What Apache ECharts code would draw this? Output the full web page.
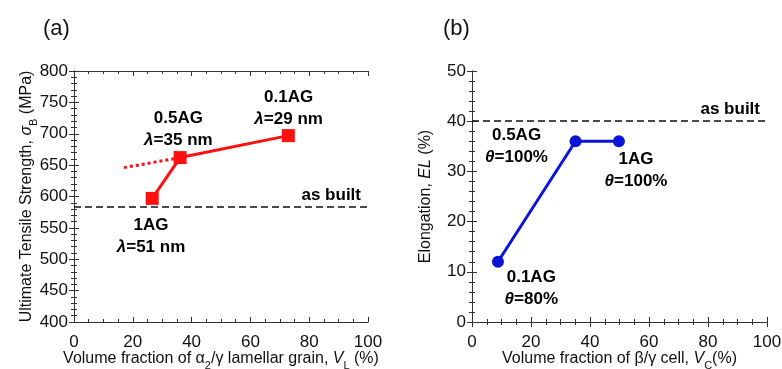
<!DOCTYPE html>
<html><head><meta charset="utf-8">
<script src="https://cdn.jsdelivr.net/npm/echarts@6/dist/echarts.min.js"></script>
<style>html,body{margin:0;padding:0;background:#fff}#c{width:782px;height:369px}</style>
</head><body><div id="c"></div>
<script>
// ---- data ----
const tsNames = ['1AG', '0.5AG', '0.1AG'];
const tsLambda = ['51 nm', '35 nm', '29 nm'];
const tsX = [26.6, 36.1, 72.9];
const tsY = [597, 662, 697];
const tsTrendX = [17, 36.1];
const tsTrendY = [646, 662];
const tsAsBuilt = 583;

const elNames = ['0.1AG', '0.5AG', '1AG'];
const elTheta = ['80%', '100%', '100%'];
const elX = [8.8, 35.1, 49.8];
const elY = [12, 36, 36];
const elAsBuilt = 40;

const xTicksA = [0, 20, 40, 60, 80, 100];
const yTicksA = [400, 450, 500, 550, 600, 650, 700, 750, 800];
const yTicksB = [0, 10, 20, 30, 40, 50];

// annotation anchors (data units)
const tsLabelAt = [[26.2, 536], [35.5, 707], [73, 740]];
const elLabelAt = [[20.1, 6.7], [15.1, 34.9], [55.6, 30.3]];

const FONT = 'Liberation Sans, Arial, sans-serif';
const RED = '#ff1010';
const BLUE = '#0a14d6';
const AX = '#333';

const chart = echarts.init(document.getElementById('c'), null, {renderer: 'canvas'});

function pairs(xs, ys) { return xs.map((x, i) => [x, ys[i]]); }

const nameRich = {
  n: {fontFamily: FONT, fontSize: 16, color: '#111', lineHeight: 18},
  it: {fontFamily: FONT, fontSize: 16, color: '#111', fontStyle: 'italic', lineHeight: 18},
  s: {fontFamily: FONT, fontSize: 11, color: '#111', lineHeight: 24, verticalAlign: 'bottom'}
};

function mkX(grid, min, max, interval, minorSplit, show, name) {
  return {
    type: 'value', gridIndex: grid, min: min, max: max, interval: interval,
    position: show ? 'bottom' : 'top',
    axisLine: {show: true, lineStyle: {color: AX, width: 1}},
    axisTick: {show: true, inside: true, length: 5, lineStyle: {color: AX}},
    minorTick: {show: true, splitNumber: minorSplit, length: 3, lineStyle: {color: AX}},
    splitLine: {show: false},
    axisLabel: {show: show, color: '#111', fontFamily: FONT, fontSize: 17, margin: 12},
    name: show ? name : '', nameLocation: 'middle', nameGap: 25, nameMoveOverlap: false,
    nameTextStyle: {color: '#111', fontFamily: FONT, fontSize: 16, rich: nameRich}
  };
}
function mkY(grid, min, max, interval, minorSplit, show, name, gap) {
  return {
    type: 'value', gridIndex: grid, min: min, max: max, interval: interval,
    position: show ? 'left' : 'right',
    axisLine: {show: true, lineStyle: {color: AX, width: 1}},
    axisTick: {show: true, inside: true, length: 5, lineStyle: {color: AX}},
    minorTick: {show: true, splitNumber: minorSplit, length: 3, lineStyle: {color: AX}},
    splitLine: {show: false},
    axisLabel: {show: show, color: '#111', fontFamily: FONT, fontSize: 17, margin: 6},
    name: show ? name : '', nameLocation: 'middle', nameGap: gap, nameMoveOverlap: false,
    nameTextStyle: {color: '#111', fontFamily: FONT, fontSize: 16, rich: nameRich}
  };
}

const annRich = {
  b: {fontFamily: FONT, fontSize: 17, fontWeight: 'bold', color: '#000', lineHeight: 22, textBorderWidth: 0},
  i: {fontFamily: FONT, fontSize: 17, fontWeight: 'bold', fontStyle: 'italic', color: '#000', lineHeight: 22, textBorderWidth: 0}
};

const tsAnn = tsNames.map((n, i) => ({
  value: tsLabelAt[i],
  label: {formatter: '{b|' + n + '}\n{i|λ}{b|=' + tsLambda[i] + '}'}
}));
const elAnn = elNames.map((n, i) => ({
  value: elLabelAt[i],
  label: {formatter: '{b|' + n + '}\n{i|θ}{b|=' + elTheta[i] + '}'}
}));

const asBuiltLabel = {show: true, position: 'insideEndTop', formatter: 'as built',
  fontFamily: FONT, fontSize: 17, fontWeight: 'bold', color: '#000', distance: [7, 3]};

const annLabel = {show: true, position: 'inside', rich: annRich, align: 'center',
  color: '#000', textBorderWidth: 0, opacity: 1};

const option = {
  animation: false,
  backgroundColor: '#fff',
  title: [
    {text: '(a)', left: 38, top: 13, textStyle: {fontFamily: FONT, fontSize: 22, fontWeight: 'normal', color: '#111'}},
    {text: '(b)', left: 438, top: 13, textStyle: {fontFamily: FONT, fontSize: 22, fontWeight: 'normal', color: '#111'}}
  ],
  grid: [
    {left: 74, width: 294, top: 71, height: 251, outerBoundsMode: 'none', containLabel: false},
    {left: 472, width: 295, top: 71, height: 251, outerBoundsMode: 'none', containLabel: false}
  ],
  xAxis: [
    mkX(0, xTicksA[0], xTicksA[xTicksA.length - 1], 20, 4, true,
      '{n|Volume fraction of α}{s|2}{n|/γ lamellar grain, }{it|V}{s|L}{n| (%)}'),
    mkX(0, xTicksA[0], xTicksA[xTicksA.length - 1], 20, 4, false, ''),
    mkX(1, xTicksA[0], xTicksA[xTicksA.length - 1], 20, 4, true,
      '{n|Volume fraction of β/γ cell, }{it|V}{s|C}{n|(%)}'),
    mkX(1, xTicksA[0], xTicksA[xTicksA.length - 1], 20, 4, false, '')
  ],
  yAxis: [
    mkY(0, yTicksA[0], yTicksA[yTicksA.length - 1], 50, 5, true,
      '{n|Ultimate Tensile Strength, }{it|σ}{s|B}{n| (MPa)}', 35),
    mkY(0, yTicksA[0], yTicksA[yTicksA.length - 1], 50, 5, false, '', 0),
    mkY(1, yTicksB[0], yTicksB[yTicksB.length - 1], 10, 5, true,
      '{n|Elongation, }{it|EL}{n| (%)}', 37),
    mkY(1, yTicksB[0], yTicksB[yTicksB.length - 1], 10, 5, false, '', 0)
  ],
  series: [
    {
      type: 'line', xAxisIndex: 0, yAxisIndex: 0, data: pairs(tsX, tsY),
      symbol: 'rect', symbolSize: 13, itemStyle: {color: RED},
      lineStyle: {color: RED, width: 3}, z: 5,
      markLine: {
        silent: true, symbol: 'none', animation: false,
        lineStyle: {color: '#111', width: 1.5, type: [7, 4]},
        label: asBuiltLabel,
        data: [{yAxis: tsAsBuilt}]
      }
    },
    {
      type: 'line', xAxisIndex: 0, yAxisIndex: 0, data: pairs(tsTrendX, tsTrendY),
      symbol: 'none', lineStyle: {color: RED, width: 3, type: [3, 3]}, z: 4
    },
    {
      type: 'scatter', xAxisIndex: 0, yAxisIndex: 0, data: tsAnn,
      symbol: 'circle', symbolSize: 1, itemStyle: {color: 'rgba(0,0,0,0)'}, silent: true, z: 10,
      label: annLabel
    },
    {
      type: 'line', xAxisIndex: 2, yAxisIndex: 2, data: pairs(elX, elY),
      symbol: 'circle', symbolSize: 12, itemStyle: {color: BLUE},
      lineStyle: {color: BLUE, width: 3}, z: 5,
      markLine: {
        silent: true, symbol: 'none', animation: false,
        lineStyle: {color: '#111', width: 1.5, type: [7, 4]},
        label: asBuiltLabel,
        data: [{yAxis: elAsBuilt}]
      }
    },
    {
      type: 'scatter', xAxisIndex: 2, yAxisIndex: 2, data: elAnn,
      symbol: 'circle', symbolSize: 1, itemStyle: {color: 'rgba(0,0,0,0)'}, silent: true, z: 10,
      label: annLabel
    }
  ]
};
chart.setOption(option);
</script>
</body></html>
